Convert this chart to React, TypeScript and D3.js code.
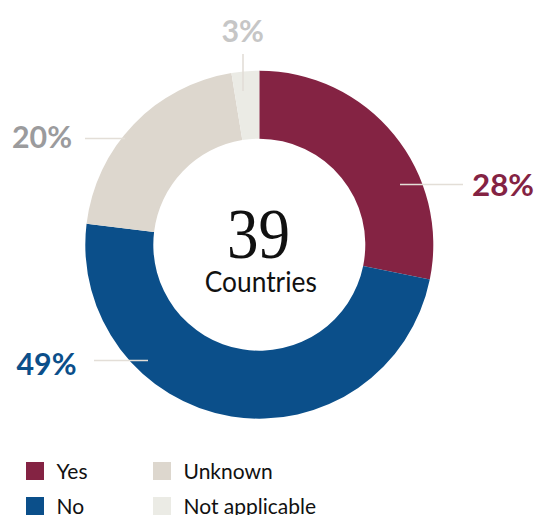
import React from "react";
import * as d3 from "d3";

const categories = ["Yes", "No", "Unknown", "Not applicable"];
const counts = [11, 19, 8, 1];
const percentLabels = ["28%", "49%", "20%", "3%"];
const totalLabel = "39";
const centerSubLabel = "Countries";

const sliceColors = ["#842343", "#0B4F8A", "#DDD7CE", "#EBEBE5"];
const labelColors = ["#842343", "#0B4F8A", "#9B9B9D", "#C6C6C6"];

// layout of the leader lines and labels (hand placed as in the reference)
const labelLayout = [
  { line: [[400, 184.5], [463, 184.5]], text: [472, 196], width: 62 },
  { line: [[94, 360.5], [148, 360.5]], text: [16.5, 375], width: 60 },
  { line: [[85, 138.5], [125, 138.5]], text: [12, 148], width: 60 },
  { line: [[243, 54], [243, 91]], text: [221.5, 41.5], width: 42.5 },
];

export default function App() {
  const W = 537;
  const H = 515;
  const cx = 259.3;
  const cy = 244.7;
  const outerR = 174;
  const innerR = 106;

  const pie = d3
    .pie<number>()
    .sort(null)
    .value((d) => d)
    .startAngle(0)
    .endAngle(2 * Math.PI);
  const arcs = pie(counts);
  const arc = d3.arc<d3.PieArcDatum<number>>().innerRadius(innerR).outerRadius(outerR);

  const legendX = [26, 153];
  const legendY = [462, 497];
  const sans = "Lato, 'Open Sans', sans-serif";

  return (
    <svg
      width={W}
      height={H}
      viewBox={`0 0 ${W} ${H}`}
      style={{ position: "absolute", left: 0, top: 0, background: "#fff" }}
    >
      <g transform={`translate(${cx},${cy})`}>
        {arcs.map((a, i) => (
          <path key={categories[i]} d={arc(a) || ""} fill={sliceColors[i]} />
        ))}
      </g>
      {labelLayout.map((l, i) => (
        <g key={"lbl" + i}>
          <line
            x1={l.line[0][0]}
            y1={l.line[0][1]}
            x2={l.line[1][0]}
            y2={l.line[1][1]}
            stroke="#E3DED7"
            strokeWidth={1.6}
          />
          <text
            x={l.text[0]}
            y={l.text[1]}
            fill={labelColors[i]}
            fontFamily={sans}
            fontWeight={700}
            fontSize={30}
            textLength={l.width}
            lengthAdjust="spacingAndGlyphs"
          >
            {percentLabels[i]}
          </text>
        </g>
      ))}
      <text
        x={cx - 0.8}
        y={258}
        textAnchor="middle"
        fontFamily="'Liberation Serif', serif"
        fontSize={72}
        fill="#111"
        textLength={63}
        lengthAdjust="spacingAndGlyphs"
      >
        {totalLabel}
      </text>
      <text
        x={cx + 1.5}
        y={292}
        textAnchor="middle"
        fontFamily={sans}
        fontSize={29}
        fill="#111"
        textLength={112}
        lengthAdjust="spacingAndGlyphs"
      >
        {centerSubLabel}
      </text>
      {categories.map((c, i) => {
        const col = i < 2 ? 0 : 1;
        const row = i % 2;
        const x = legendX[col];
        const y = legendY[row];
        return (
          <g key={"leg" + c}>
            <rect x={x} y={y} width={18} height={18} fill={sliceColors[i]} />
            <text
              x={x + 30.5}
              y={y + 17}
              fontFamily={sans}
              fontSize={21}
              fill="#111"
            >
              {c}
            </text>
          </g>
        );
      })}
    </svg>
  );
}
